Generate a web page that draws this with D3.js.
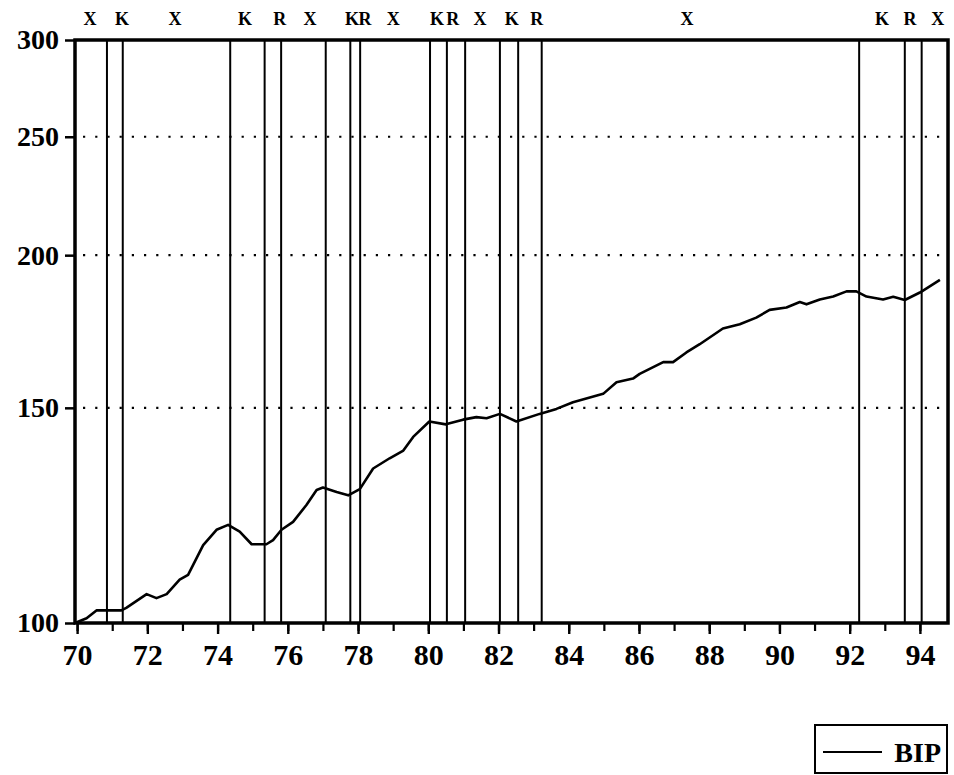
<!DOCTYPE html>
<html>
<head>
<meta charset="utf-8">
<script src="https://cdn.jsdelivr.net/npm/d3@7"></script>
<style>
  body { margin: 0; background: #fff; }
  text { font-family: "Liberation Serif", serif; font-weight: bold; fill: #000; }
</style>
</head>
<body>
<div id="chart"></div>
<script>
// BIP (index, log scale)
const years = [69.94, 70.27, 70.55, 71.26, 71.4, 71.98, 72.26, 72.55, 72.92, 73.16,
  73.59, 73.97, 74.3, 74.63, 74.97, 75.39, 75.58, 75.82, 76.15, 76.53,
  76.82, 77.0, 77.39, 77.72, 78.05, 78.43, 78.9, 79.29, 79.57, 80.03,
  80.5, 80.99, 81.37, 81.66, 82.04, 82.51, 83.17, 83.65, 84.12, 84.98,
  85.36, 85.83, 86.02, 86.69, 86.97, 87.35, 87.73, 88.39, 88.87, 89.34,
  89.72, 90.2, 90.58, 90.77, 91.15, 91.53, 91.91, 92.19, 92.48, 92.95,
  93.24, 93.57, 94.0, 94.57]
const bip = [100.0, 100.9, 102.4, 102.4, 102.9, 105.6, 104.8, 105.6, 108.5, 109.5,
  115.8, 119.2, 120.3, 118.8, 116.0, 116.0, 116.9, 119.2, 121.0, 124.9,
  128.5, 129.1, 128.0, 127.2, 128.7, 133.8, 136.4, 138.4, 142.0, 146.2,
  145.4, 146.7, 147.4, 147.1, 148.3, 146.2, 148.3, 149.7, 151.6, 154.0,
  157.4, 158.5, 159.9, 163.5, 163.5, 166.5, 169.1, 174.2, 175.6, 177.8,
  180.4, 181.2, 183.1, 182.3, 184.0, 185.0, 186.8, 186.8, 185.0, 184.0,
  184.9, 183.8, 186.4, 190.9]

// regime break dates (vertical lines) and the phase labels above the frame
const breaks = [70.85, 71.30, 74.36, 75.34, 75.81, 77.08, 77.78, 78.06, 80.05,
  80.53, 81.05, 82.04, 82.56, 83.23, 92.27, 93.57, 94.05]
const phaseLabels = ['X', 'K', 'X', 'K', 'R', 'X', 'K', 'R', 'X', 'K', 'R', 'X', 'K', 'R', 'X', 'K', 'R', 'X']
const phaseYears = [70.37, 71.28, 72.79, 74.78, 75.77, 76.63, 77.83, 78.2, 79.0,
  80.25, 80.7, 81.47, 82.38, 83.09, 87.37, 92.92, 93.72, 94.51]

const yTicks = [100, 150, 200, 250, 300]
const yGrid = [150, 200, 250]
const xLabelYears = [70, 72, 74, 76, 78, 80, 82, 84, 86, 88, 90, 92, 94]
const xMinorYears = d3.range(70, 95)

const width = 954, height = 775
const m = { left: 75, right: 948, top: 40, bottom: 623 }

const svg = d3.select('#chart')
  .append('svg')
    .attr('width', width)
    .attr('height', height)

const x = d3.scaleLinear()
  .domain([69.94, 94.8])
  .range([m.left, m.right])

const y = d3.scaleLog()
  .domain([100, 300])
  .range([m.bottom, m.top])

// dotted grid
svg.append('g')
  .selectAll('line')
  .data(yGrid)
  .join('line')
    .attr('x1', m.left + 8)
    .attr('x2', m.right - 4)
    .attr('y1', d => y(d))
    .attr('y2', d => y(d))
    .style('stroke', '#000')
    .style('stroke-width', 2.2)
    .style('stroke-dasharray', '2.2,10')

// vertical regime lines
svg.append('g')
  .selectAll('line')
  .data(breaks)
  .join('line')
    .attr('x1', d => x(d))
    .attr('x2', d => x(d))
    .attr('y1', m.top)
    .attr('y2', m.bottom)
    .style('stroke', '#000')
    .style('stroke-width', 2)

// phase labels
svg.append('g')
  .selectAll('text')
  .data(phaseLabels)
  .join('text')
    .attr('x', (d, i) => x(phaseYears[i]))
    .attr('y', 25)
    .attr('text-anchor', 'middle')
    .style('font-size', '18px')
    .text(d => d)

// series
const line = d3.line()
  .x((d, i) => x(years[i]))
  .y(d => y(d))

svg.append('path')
  .datum(bip)
  .attr('d', line)
  .style('stroke', '#000')
  .style('stroke-width', 2.6)
  .style('stroke-linejoin', 'round')
  .style('fill', 'none')

// frame
svg.append('rect')
  .attr('x', m.left)
  .attr('y', m.top)
  .attr('width', m.right - m.left)
  .attr('height', m.bottom - m.top)
  .style('fill', 'none')
  .style('stroke', '#000')
  .style('stroke-width', 3.5)

// y axis
const yAxis = svg.append('g')
  .attr('transform', `translate(${m.left}, 0)`)
  .call(d3.axisLeft(y).tickValues(yTicks).tickFormat(d3.format('d')).tickSize(10).tickPadding(6))
yAxis.select('.domain').remove()
yAxis.selectAll('line').style('stroke-width', 2.5)
yAxis.selectAll('text')
  .style('font-size', '28px')
  .style('font-family', '"Liberation Serif", serif')
  .style('font-weight', 'bold')

// x axis: minor yearly ticks, labelled even years
const xMinor = svg.append('g')
  .attr('transform', `translate(0, ${m.bottom})`)
  .call(d3.axisBottom(x).tickValues(xMinorYears).tickFormat('').tickSize(8))
xMinor.select('.domain').remove()
xMinor.selectAll('line').style('stroke-width', 2.2)

const xAxis = svg.append('g')
  .attr('transform', `translate(0, ${m.bottom})`)
  .call(d3.axisBottom(x).tickValues(xLabelYears).tickFormat(d3.format('d')).tickSize(11).tickPadding(10))
xAxis.select('.domain').remove()
xAxis.selectAll('line').style('stroke-width', 2.4)
xAxis.selectAll('text')
  .style('font-size', '30px')
  .style('font-family', '"Liberation Serif", serif')
  .style('font-weight', 'bold')

// legend
const legend = svg.append('g')
legend.append('rect')
  .attr('x', 815)
  .attr('y', 725)
  .attr('width', 132)
  .attr('height', 48)
  .style('fill', '#fff')
  .style('stroke', '#000')
  .style('stroke-width', 2)
legend.append('line')
  .attr('x1', 823)
  .attr('x2', 882)
  .attr('y1', 752)
  .attr('y2', 752)
  .style('stroke', '#000')
  .style('stroke-width', 2)
legend.append('text')
  .attr('x', 941)
  .attr('y', 762)
  .attr('text-anchor', 'end')
  .style('font-size', '28px')
  .text('BIP')
</script>
</body>
</html>
